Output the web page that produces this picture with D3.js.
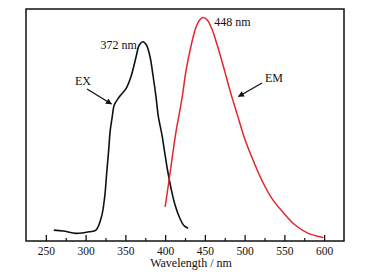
<!DOCTYPE html>
<html><head><meta charset="utf-8">
<script src="https://cdn.jsdelivr.net/npm/d3@7"></script>
<style>body{margin:0;background:#fff}svg{display:block}text{font-family:"Liberation Serif","Times New Roman",serif;fill:#111}</style>
</head><body><svg id="c" width="369" height="276"></svg>
<script>
const exWavelength = [260, 272, 288, 305, 313, 320, 324, 326.5, 329, 331, 333.5, 336, 342.5, 351, 357, 363.5, 367.5, 372, 376.5, 381, 385, 388.5, 391.5, 396, 399, 403, 407, 412.5, 418.5, 424, 429];
const exIntensity  = [0.047, 0.043, 0.033, 0.040, 0.047, 0.105, 0.191, 0.293, 0.392, 0.478, 0.536, 0.586, 0.622, 0.658, 0.708, 0.794, 0.845, 0.859, 0.845, 0.794, 0.708, 0.622, 0.536, 0.457, 0.392, 0.306, 0.234, 0.155, 0.098, 0.065, 0.055];
const emWavelength = [400, 405, 409, 414, 417.5, 421.5, 426, 432, 438.5, 443.5, 448, 453, 458.5, 465.5, 474, 482, 490.5, 499, 509, 521.5, 534, 549, 563.5, 580, 599];
const emIntensity  = [0.147, 0.263, 0.362, 0.478, 0.543, 0.621, 0.728, 0.832, 0.918, 0.953, 0.963, 0.953, 0.917, 0.845, 0.744, 0.644, 0.548, 0.452, 0.362, 0.263, 0.185, 0.121, 0.069, 0.033, 0.015];
const xTicks = [250, 300, 350, 400, 450, 500, 550, 600];
const xMinorTicks = [275, 325, 375, 425, 475, 525, 575];
const peakLabels = ["372 nm", "448 nm"];
const seriesNames = ["EX", "EM"];
const xTitle = "Wavelength / nm";

const svg = d3.select("#c");
const L = 26, R = 344, T = 9, B = 241;
const x = d3.scaleLinear().domain([225, 625]).range([L, R]);
const y = d3.scaleLinear().domain([0, 1]).range([B, T]);

// frame
svg.append("rect").attr("x", L).attr("y", T).attr("width", R - L).attr("height", B - T)
  .attr("fill", "none").attr("stroke", "#111").attr("stroke-width", 1.5);

// bottom axis with inward ticks
const ax = svg.append("g").attr("transform", `translate(0,${B})`)
  .call(d3.axisBottom(x).tickValues(xTicks).tickSizeInner(-6).tickSizeOuter(0).tickPadding(5.5));
ax.select(".domain").remove();
ax.selectAll(".tick line").attr("stroke", "#111").attr("stroke-width", 1.3);
ax.selectAll(".tick text").attr("font-size", 11.5).attr("font-family", "Liberation Serif").attr("fill", "#111");
const axm = svg.append("g").attr("transform", `translate(0,${B})`)
  .call(d3.axisBottom(x).tickValues(xMinorTicks).tickSizeInner(-3).tickSizeOuter(0).tickFormat(""));
axm.select(".domain").remove();
axm.selectAll(".tick line").attr("stroke", "#111").attr("stroke-width", 1.2);

svg.append("text").attr("x", 191).attr("y", 266.5).attr("text-anchor", "middle")
  .attr("font-size", 12).text(xTitle);

const line = d3.line().x(d => x(d[0])).y(d => y(d[1])).curve(d3.curveCatmullRom);
svg.append("path").datum(d3.zip(exWavelength, exIntensity)).attr("d", line)
  .attr("fill", "none").attr("stroke", "#111").attr("stroke-width", 1.6);
svg.append("path").datum(d3.zip(emWavelength, emIntensity)).attr("d", line)
  .attr("fill", "none").attr("stroke", "#e3262c").attr("stroke-width", 1.5);

// annotations
svg.append("text").attr("x", x(372) - 6).attr("y", 49).attr("text-anchor", "end").attr("font-size", 12).text(peakLabels[0]);
svg.append("text").attr("x", x(448) + 11).attr("y", 26).attr("font-size", 12).text(peakLabels[1]);
svg.append("text").attr("x", 75).attr("y", 85).attr("font-size", 12).text(seriesNames[0]);
svg.append("text").attr("x", 265).attr("y", 82).attr("font-size", 12).text(seriesNames[1]);

svg.append("defs").append("marker").attr("id", "ah").attr("viewBox", "0 0 10 10")
  .attr("refX", 9).attr("refY", 5).attr("markerWidth", 7).attr("markerHeight", 6)
  .attr("markerUnits", "userSpaceOnUse").attr("orient", "auto")
  .append("path").attr("d", "M0,0 L10,5 L0,10 z").attr("fill", "#111");
svg.append("line").attr("x1", 87).attr("y1", 89).attr("x2", 111.5).attr("y2", 104)
  .attr("stroke", "#111").attr("stroke-width", 1.3).attr("marker-end", "url(#ah)");
svg.append("line").attr("x1", 262).attr("y1", 83).attr("x2", 238.5).attr("y2", 96.5)
  .attr("stroke", "#111").attr("stroke-width", 1.3).attr("marker-end", "url(#ah)");
</script></body></html>
